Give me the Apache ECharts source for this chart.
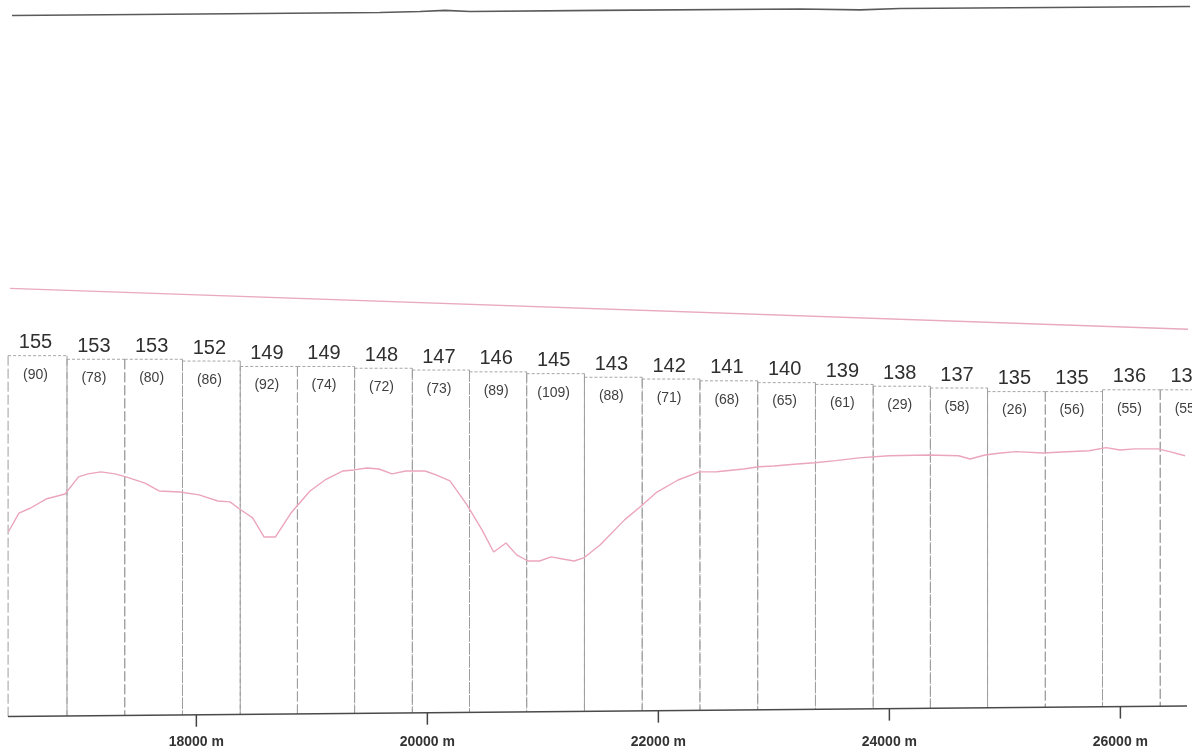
<!DOCTYPE html>
<html>
<head>
<meta charset="utf-8">
<script src="https://cdn.jsdelivr.net/npm/echarts@6/dist/echarts.min.js"></script>
<style>
  html, body { margin: 0; padding: 0; background: #ffffff; }
  #chart { width: 1192px; height: 747px; }
</style>
</head>
<body>
<div id="chart"></div>
<script>
// ---- data ----
// column boundaries along the route (m)
const colEdges = [16370, 16880, 17380, 17880, 18380, 18875, 19370, 19870, 20365, 20860, 21360, 21860, 22360, 22860, 23360, 23860, 24355, 24850, 25350, 25845, 26345, 26845];
// big number at the top of each column (also its level)
const colValues = [155, 153, 153, 152, 149, 149, 148, 147, 146, 145, 143, 142, 141, 140, 139, 138, 137, 135, 135, 136, 136];
// number in brackets under it
const colCounts = [90, 78, 80, 86, 92, 74, 72, 73, 89, 109, 88, 71, 68, 65, 61, 29, 58, 26, 56, 55, 55];

// pink profile curve
const profileDist = [16373, 16464, 16565, 16698, 16863, 16980, 17062, 17174, 17296, 17391, 17555, 17677, 17858, 18023, 18187, 18291, 18387, 18487, 18586, 18685, 18819, 18984, 19114, 19265, 19365, 19477, 19581, 19694, 19813, 19980, 20075, 20196, 20343, 20473, 20574, 20681, 20773, 20871, 20972, 21071, 21171, 21270, 21353, 21495, 21707, 21841, 21988, 22170, 22355, 22505, 22738, 22871, 23001, 23200, 23353, 23535, 23735, 23997, 24335, 24599, 24698, 24828, 24964, 25097, 25330, 25494, 25728, 25876, 25997, 26126, 26325, 26426, 26560];
const profileElev = [57.0, 67.4, 70.2, 75.2, 78.0, 87.5, 89.2, 90.3, 89.2, 87.5, 84.1, 79.7, 79.1, 77.5, 74.1, 73.6, 69.1, 64.7, 54.1, 54.1, 67.4, 79.7, 85.8, 90.8, 91.4, 92.5, 91.9, 89.2, 90.8, 90.8, 88.6, 85.3, 71.9, 58.0, 45.7, 50.7, 44.1, 40.7, 40.7, 43.0, 41.8, 40.7, 42.4, 49.6, 63.6, 70.8, 79.1, 85.8, 90.3, 90.4, 91.9, 93.2, 93.6, 94.7, 95.4, 96.6, 98.1, 99.3, 99.7, 99.3, 97.5, 99.7, 100.8, 101.6, 100.8, 101.4, 102.1, 103.8, 102.5, 103.1, 103.1, 101.6, 99.3];

// pink straight sloping line
const gradeDist = [16387, 26586];
const gradeElev = [192.5, 169.7];

// dark line at the top
const topDist = [16404, 18032, 19590, 19937, 20153, 20369, 21495, 23227, 23746, 24092, 25391, 26603];
const topElev = [344.4, 345.2, 346.0, 346.6, 347.2, 346.6, 347.2, 348.0, 347.5, 348.3, 348.8, 349.4];

// base line
const baseDist = [16369, 26577];
const baseElev = [-45.8, -40.0];

// x tick labels
const tickValues = [18000, 20000, 22000, 24000, 26000];

// ---- build ----
const zip = (a, b) => a.map((v, i) => [v, b[i]]);
function baseAt(m) {
  const t = (m - baseDist[0]) / (baseDist[1] - baseDist[0]);
  return baseElev[0] + t * (baseElev[1] - baseElev[0]);
}
const columnData = colValues.map((v, i) => [colEdges[i], colEdges[i + 1], v, colCounts[i]]);

const FONT = '"Liberation Sans", Arial, Helvetica, sans-serif';

const chart = echarts.init(document.getElementById('chart'), null, { renderer: 'canvas' });
chart.setOption({
  animation: false,
  backgroundColor: '#ffffff',
  grid: { left: 0, top: 0, width: 1192, height: 711, containLabel: false, outerBoundsMode: 'none' },
  xAxis: {
    type: 'value', min: 16300, max: 26620,
    axisLine: { show: false },
    splitLine: { show: false },
    axisTick: { show: false },
    axisLabel: {
      show: true, customValues: tickValues, margin: 24,
      formatter: v => v + ' m',
      color: '#333', fontSize: 14, fontWeight: 'bold', fontFamily: FONT
    }
  },
  yAxis: { type: 'value', min: -42.8, max: 353, show: false },
  series: [
    {
      type: 'custom',
      data: columnData,
      encode: { x: [0, 1], y: 2 },
      z: 1,
      clip: false,
      renderItem: function (params, api) {
        const x0 = api.value(0), x1 = api.value(1), lvl = api.value(2), cnt = api.value(3);
        const pTL = api.coord([x0, lvl]);
        const pTR = api.coord([x1, lvl]);
        const pBL = api.coord([x0, baseAt(x0)]);
        const pBR = api.coord([x1, baseAt(x1)]);
        const cx = (pTL[0] + pTR[0]) / 2 - 2;
        return {
          type: 'group',
          children: [
            { type: 'line', shape: { x1: pTL[0], y1: pTL[1], x2: pTR[0], y2: pTR[1] },
              style: { stroke: '#a6a6a6', lineWidth: 1, lineDash: [3, 2] } },
            { type: 'line', shape: { x1: pTL[0], y1: pTL[1], x2: pBL[0], y2: pBL[1] },
              style: { stroke: '#9e9e9e', lineWidth: 1, lineDash: [10, 3] } },
            { type: 'line', shape: { x1: pTR[0], y1: pTR[1], x2: pBR[0], y2: pBR[1] },
              style: { stroke: '#9e9e9e', lineWidth: 1, lineDash: [10, 3] } },
            { type: 'text', x: cx, y: pTL[1] - 13,
              style: { text: String(lvl), fill: '#2f2f2f', font: '20px ' + FONT, align: 'center', verticalAlign: 'middle' } },
            { type: 'text', x: cx, y: pTL[1] + 19,
              style: { text: '(' + cnt + ')', fill: '#3f3f3f', font: '14px ' + FONT, align: 'center', verticalAlign: 'middle' } }
          ]
        };
      }
    },
    {
      // axis ticks hanging under the (slightly sloping) base line
      type: 'custom',
      data: tickValues.map(v => [v]),
      encode: { x: 0 },
      z: 2,
      clip: false,
      renderItem: function (params, api) {
        const v = api.value(0);
        const p = api.coord([v, baseAt(v)]);
        return { type: 'line', shape: { x1: p[0], y1: p[1], x2: p[0], y2: p[1] + 12 },
                 style: { stroke: '#444', lineWidth: 1.5 } };
      }
    },
    {
      type: 'line', data: zip(profileDist, profileElev), showSymbol: false, z: 3,
      lineStyle: { color: '#eba5bd', width: 1.4 }
    },
    {
      type: 'line', data: zip(gradeDist, gradeElev), showSymbol: false, z: 3,
      lineStyle: { color: '#e9a9c0', width: 1.3 }
    },
    {
      type: 'line', data: zip(topDist, topElev), showSymbol: false, z: 3,
      lineStyle: { color: '#5a5a5a', width: 1.6 }
    },
    {
      type: 'line', data: zip(baseDist, baseElev), showSymbol: false, z: 3, clip: false,
      lineStyle: { color: '#4a4a4a', width: 1.5 }
    }
  ]
});
</script>
</body>
</html>
